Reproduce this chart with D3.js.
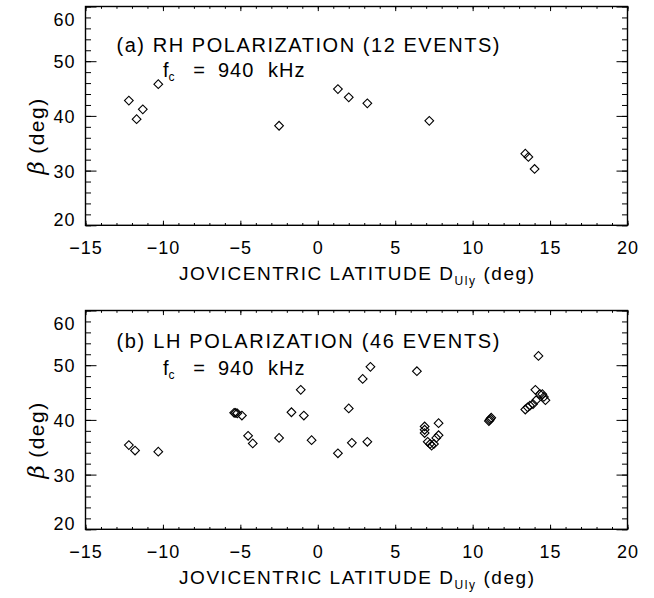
<!DOCTYPE html>
<html><head><meta charset="utf-8">
<script src="https://cdn.jsdelivr.net/npm/d3@7"></script>
<style>
body{margin:0;background:#fff}
svg text{font-family:"Liberation Sans",Arial,sans-serif;fill:#000}
</style>
</head><body>
<svg id="c" width="654" height="598"></svg>
<script>
// ---- data ----
const xTicks = [-15, -10, -5, 0, 5, 10, 15, 20];
const yTicks = [20, 30, 40, 50, 60];
const rhLat  = [-12.2, -11.7, -11.3, -10.3, -2.5, 1.3, 2.0, 3.2, 7.2, 13.4, 13.6, 14.0];
const rhBeta = [42.8, 39.4, 41.2, 45.8, 38.2, 44.9, 43.4, 42.3, 39.1, 33.1, 32.5, 30.3];
const lhLat  = [-12.2, -11.8, -10.3, -5.4, -5.3, -5.2, -4.9, -4.5, -4.2, -2.5, -1.7, -1.1, -0.9, -0.4,
                1.3, 2.0, 2.2, 2.9, 3.2, 3.4,
                6.4, 6.9, 6.9, 6.9, 7.1, 7.25, 7.35, 7.5, 7.8, 7.8, 7.65,
                11.05, 11.1, 11.15, 11.2,
                13.4, 13.55, 13.7, 13.9, 14.1, 14.05, 14.35, 14.5, 14.7, 14.25, 14.6];
const lhBeta = [35.4, 34.4, 34.2, 41.3, 41.3, 41.2, 40.8, 37.1, 35.7, 36.7, 41.4, 45.5, 40.8, 36.3,
                33.9, 42.1, 35.8, 47.5, 36.0, 49.7,
                48.9, 38.8, 38.2, 37.6, 36.0, 35.6, 35.3, 35.6, 39.4, 37.2, 36.7,
                39.8, 40.0, 40.2, 40.4,
                41.9, 42.3, 42.6, 42.9, 43.6, 45.5, 44.7, 44.7, 43.6, 51.7, 44.2];
const panelTitles = ["(a) RH POLARIZATION (12 EVENTS)", "(b) LH POLARIZATION (46 EVENTS)"];
const freqParts = ["f", "c", "=", "940", "kHz"];
const xTitle = ["JOVICENTRIC LATITUDE D", "Uly", " (deg)"];

// ---- layout ----
const svg = d3.select("#c");
const L = 85.5, R = 627.5;
const panels = [
  {top: 6.5,  bottom: 225.3, lat: rhLat, beta: rhBeta, title: panelTitles[0], tY: 45, fY: 70.5},
  {top: 310.5, bottom: 529.3, lat: lhLat, beta: lhBeta, title: panelTitles[1], tY: 37, fY: 64}
];
const x = d3.scaleLinear().domain([-15, 20]).range([L, R]);
const fmt = d => (d < 0 ? "\u2212" + Math.abs(d) : String(d));

panels.forEach(p => {
  const y = d3.scaleLinear().domain([20, 60]).range([p.bottom, p.top]);
  const g = svg.append("g");

  const style = sel => {
    sel.select(".domain").remove();
    sel.selectAll(".tick line").attr("stroke", "#000").attr("stroke-width", 1);
  };
  // bottom axis
  g.append("g").attr("transform", `translate(0,${p.bottom})`)
    .call(d3.axisBottom(x).tickValues(d3.range(-15, 21, 1)).tickSize(-2.3).tickFormat("")).call(style);
  const bx = g.append("g").attr("transform", `translate(0,${p.bottom})`)
    .call(d3.axisBottom(x).tickValues(xTicks).tickSize(-4.6).tickPadding(16).tickFormat(fmt)).call(style);
  bx.selectAll("text").attr("font-size", 18).attr("letter-spacing", 1);
  // top axis
  g.append("g").attr("transform", `translate(0,${p.top})`)
    .call(d3.axisTop(x).tickValues(d3.range(-15, 21, 1)).tickSize(-2.3).tickFormat("")).call(style);
  g.append("g").attr("transform", `translate(0,${p.top})`)
    .call(d3.axisTop(x).tickValues(xTicks).tickSize(-4.6).tickFormat("")).call(style);
  // left axis
  g.append("g").attr("transform", `translate(${L},0)`)
    .call(d3.axisLeft(y).tickValues(d3.range(20, 61, 2)).tickSize(-5.5).tickFormat("")).call(style);
  const ly = g.append("g").attr("transform", `translate(${L},0)`)
    .call(d3.axisLeft(y).tickValues(yTicks).tickSize(-11).tickPadding(10).tickFormat(fmt)).call(style);
  ly.selectAll("text").attr("font-size", 18).attr("letter-spacing", 1)
    .attr("dy", d => d === 60 ? "1.05em" : d === 20 ? "0.0em" : "0.36em");
  // right axis
  g.append("g").attr("transform", `translate(${R},0)`)
    .call(d3.axisRight(y).tickValues(d3.range(20, 61, 2)).tickSize(-5.5).tickFormat("")).call(style);
  g.append("g").attr("transform", `translate(${R},0)`)
    .call(d3.axisRight(y).tickValues(yTicks).tickSize(-11).tickFormat("")).call(style);

  // frame
  g.append("rect").attr("x", L).attr("y", p.top).attr("width", R - L).attr("height", p.bottom - p.top)
    .attr("fill", "none").attr("stroke", "#000").attr("stroke-width", 1.4);

  // points (diamonds)
  const sym = d3.symbol().type(d3.symbolSquare).size(38);
  g.append("g").selectAll("path").data(p.lat.map((v, i) => [v, p.beta[i]])).join("path")
    .attr("d", sym)
    .attr("transform", d => `translate(${x(d[0])},${y(d[1])}) rotate(45)`)
    .attr("fill", "none").attr("stroke", "#000").attr("stroke-width", 1.1);

  // in-plot labels
  g.append("text").attr("x", x(-13)).attr("y", p.top + p.tY).attr("font-size", 20)
    .attr("textLength", 383).attr("lengthAdjust", "spacing").text(p.title);
  const fy = p.top + p.fY;
  const f = g.append("text").attr("x", x(-10)).attr("y", fy).attr("font-size", 20);
  f.append("tspan").text(freqParts[0]);
  f.append("tspan").attr("font-size", 12).attr("dy", 4).text(freqParts[1]);
  g.append("text").attr("x", 199).attr("y", fy).attr("font-size", 20).attr("text-anchor", "middle").text(freqParts[2]);
  g.append("text").attr("x", 218).attr("y", fy).attr("font-size", 20).attr("letter-spacing", 1).text(freqParts[3]);
  g.append("text").attr("x", 268).attr("y", fy).attr("font-size", 20).attr("letter-spacing", 1).text(freqParts[4]);

  // x title
  const xt = g.append("text").attr("x", (L + R) / 2).attr("y", p.bottom + 55).attr("text-anchor", "middle")
    .attr("font-size", 19).attr("textLength", 355).attr("lengthAdjust", "spacing");
  xt.append("tspan").text(xTitle[0]);
  xt.append("tspan").attr("font-size", 12).attr("dy", 5).text(xTitle[1]);
  xt.append("tspan").attr("dy", -5).text(xTitle[2]);

  // y title
  const yt = g.append("text").attr("transform", `translate(44,${(p.top + p.bottom) / 2 + 20}) rotate(-90)`)
    .attr("text-anchor", "middle").attr("font-size", 21);
  yt.append("tspan").attr("font-style", "italic").attr("font-family", "DejaVu Serif").attr("font-size", 23).text("\u03b2");
  yt.append("tspan").attr("letter-spacing", 1.5).text("  (deg)");
});
</script>
</body></html>
